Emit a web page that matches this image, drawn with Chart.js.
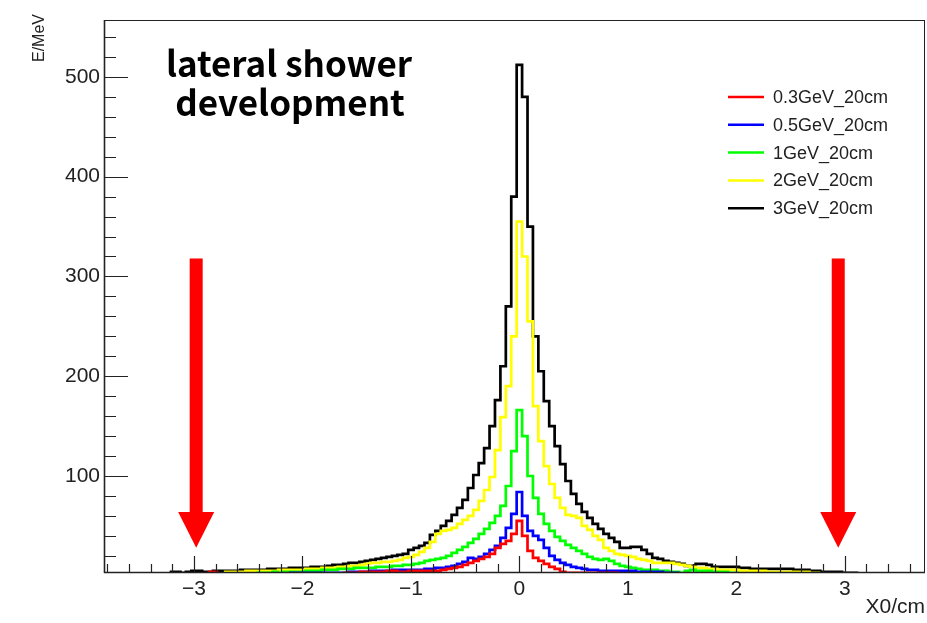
<!DOCTYPE html>
<html><head><meta charset="utf-8">
<script src="https://cdn.jsdelivr.net/npm/chart.js@4.4.1/dist/chart.umd.min.js"></script>
<style>html,body{margin:0;padding:0;background:#fff;overflow:hidden}#wrap{width:927px;height:623px}</style>
</head><body><div id="wrap"><canvas id="c" width="927" height="623"></canvas></div>
<script>
// histogram binning: bin centres from -3.25 to 3.15, width 0.05
const binStart = -3.275;
const binWidth = 0.05;

const seriesLabels = ['0.3GeV_20cm', '0.5GeV_20cm', '1GeV_20cm', '2GeV_20cm', '3GeV_20cm'];
const seriesColors = ['#ff0000', '#0000ff', '#00ff00', '#ffff00', '#000000'];

const e03 = [
  0,0,0,0,0,0,0,0, 4,4,
  0,0,0,0,0,0,0,0,0,0, 0,0,0,0,0,0,0,0,0,0, 0,0,0,
  3,3,3,4,4,4,4,4,5,5, 4,4,5,5,5,5,5,5, 6,7,8,9,11,13,15,17,19,22, 28,32,35,42,55,
  40,25,18,15,12,9,7,4,3,3, 3,3,3,3,3,3,3,3,
  0,0,0,0,0,0,0,0,0,0, 0,0,0,0,0,0,0,0,0,0, 0,0,0,0,0,0,0,0,0,0, 0,0,0,0,0,0,0,0,0,0, 0,0,0,0,0
];
const e05 = [
  0,0,0,0,0,0,0,0,0,0, 0,0,0,0,0,0,0,0,0,0, 0,0,0,
  3,3,3,3,3,3,3,3,3,3,3, 4,4,4,4, 5,5,5,5, 6,6,6,6,6,6,
  7,7,8,8,9,10,12,14,18,17,19,22,26,30,38,48,62,84,
  60,45,40,36,28,20,16,13,11,9, 8,7,6,6,5,5,5,5,5,5, 5,4,4,4,4,4,3,3,3,
  0,0,0,0,0,0,0,0,0,0, 0,0,0,0,0,0,0,0,0,0, 0,0,0,0,0,0,0,0,0,0, 0,0,0,0
];
const e1 = [
  0,0,0,0,0,0,0,0,0,0, 0,0,0,0,0,0,0,
  3,3,3,4,3,4,4,4,4, 5,5,5,6,6,6,7,7,7, 8,8,8,8,9,9,9,10,10,11,11,
  12,13,15,16,17,18,20,23,26,29,33,37,42,47,53,60,70,90,125,166,
  140,100,78,62,52,45,39,35,31,28, 25,22,19,17,16,17,15,12,10,9, 8,7,6,6,6,5,5,4,4,3, 5,6,5,5,5,4,4,4,3,3,
  0,0,0,0,0,0,0,0,0,0, 0,0,0,0,0,0,0,0,0,0, 0,0,0
];
const e2 = [
  0,0,0,0,0,0,0,0,0,0, 0,
  4,4,4,4,5,5,5,5,5,5, 6,6,6,6,6,7,7,7,8,8, 8,9,9,10,10,11,12,13,13,14,
  14,15,16,18,19,21,24,28,34,42, 45,46,48,52,56,60,66,75,86,99, 126,159,190,240,355,
  320,255,170,135,110,92,78,68,61,60, 58,50,46,40,36,28,25,22,21,20, 19,17,16,15,13,13,13,13,12,11,
  10,9,8,8,7,7,6,6,6,6, 5,5,5,5,5,4,4,4,4,4, 4,4,4,3,3,
  0,0,0,0,0,0,0,0
];
const e3 = [
  0,
  4,4,3,4,5,5,4,4,5,5, 5,5,5,6,6,6,6,6,7,7, 7,7,8,8,8,8,9,9,9,10, 11,11,12,13,13,14,15,16,17,18,
  19,20,21,22,26,28,30,33,41,45, 50,55,61,68,76,88,101,113,128,150, 176,210,270,380,512,
  480,350,240,205,175,150,130,112,95,82, 72,64,58,52,47,42,38,34,28,28, 29,29,26,22,18,17,15,14,13,12,
  10,10,12,12,11,9,9,9,9,9, 8,8,7,7,7,7,7,7,7,7, 6,6,6,5,5,4,4,4,4,3, 3,3,0
];
const seriesValues = [e03, e05, e1, e2, e3];

const xTicks = [-3, -2, -1, 0, 1, 2, 3];
const yTicks = [100, 200, 300, 400, 500];

const arrowAt = [-2.98, 2.94];
const arrowTop = 318, arrowHead = 64, arrowTip = 28;

function histPoints(vals) {
  const pts = [];
  for (let i = 0; i < vals.length; i++) {
    const v = vals[i];
    if (v <= 0) continue;
    const lo = binStart + i * binWidth, hi = lo + binWidth;
    pts.push({x: lo, y: v});
    const next = i < vals.length - 1 ? vals[i + 1] : 0;
    if (next <= 0) { pts.push({x: hi, y: v}); pts.push({x: hi, y: null}); }
  }
  return pts;
}

const SANS = "'Liberation Sans', Arial, Helvetica, sans-serif";

const overlay = {
  id: 'overlay',
  afterDatasetsDraw(chart) {
    const {ctx, chartArea: a, scales: {x, y}} = chart;
    ctx.save();
    // arrows
    ctx.fillStyle = '#ff0000';
    arrowAt.forEach(v => {
      const px = x.getPixelForValue(v);
      const yT = y.getPixelForValue(arrowTop), yH = y.getPixelForValue(arrowHead), yP = y.getPixelForValue(arrowTip);
      ctx.fillRect(px - 6.5, yT, 13, yH - yT + 1);
      ctx.beginPath(); ctx.moveTo(px - 18, yH); ctx.lineTo(px + 18, yH); ctx.lineTo(px, yP); ctx.closePath(); ctx.fill();
    });
    // frame
    ctx.strokeStyle = '#222'; ctx.lineWidth = 1;
    ctx.strokeRect(a.left + 0.5, a.top + 0.5, a.right - a.left - 1, a.bottom - a.top - 1);
    ctx.lineWidth = 1.6;
    ctx.beginPath(); ctx.moveTo(a.left, a.bottom - 0.5); ctx.lineTo(a.right, a.bottom - 0.5);
    ctx.moveTo(a.left + 0.5, a.top); ctx.lineTo(a.left + 0.5, a.bottom); ctx.stroke();
    // ticks
    ctx.lineWidth = 1.2; ctx.beginPath();
    for (let k = -19; k <= 18; k++) {
      const px = Math.round(x.getPixelForValue(k * 0.2)) + 0.5;
      const len = (k % 5 === 0) ? 17 : 9;
      ctx.moveTo(px, a.bottom); ctx.lineTo(px, a.bottom - len);
    }
    for (let k = 1; k <= 27; k++) {
      const py = Math.round(y.getPixelForValue(k * 20)) + 0.5;
      const len = (k % 5 === 0) ? 24 : 12;
      ctx.moveTo(a.left, py); ctx.lineTo(a.left + len, py);
    }
    ctx.stroke();
    // axis titles
    ctx.fillStyle = '#222';
    ctx.font = '21px ' + SANS; ctx.textAlign = 'right'; ctx.textBaseline = 'alphabetic';
    ctx.fillText('X0/cm', a.right, 613);
    ctx.save(); ctx.translate(40, 14); ctx.rotate(-Math.PI / 2);
    ctx.font = '16px ' + SANS; ctx.textAlign = 'right'; ctx.textBaseline = 'middle';
    ctx.fillText('E/MeV', 0, 0); ctx.restore();
    // legend
    ctx.font = '18px ' + SANS; ctx.textAlign = 'left'; ctx.textBaseline = 'middle';
    chart.data.datasets.forEach((ds, i) => {
      const ry = 97 + i * 27.8;
      ctx.strokeStyle = ds.borderColor; ctx.lineWidth = 2.5;
      ctx.beginPath(); ctx.moveTo(728, ry); ctx.lineTo(764, ry); ctx.stroke();
      ctx.fillStyle = '#222'; ctx.fillText(ds.label, 773, ry + 1);
    });
    // annotation
    ctx.fillStyle = '#000'; ctx.textAlign = 'center'; ctx.textBaseline = 'alphabetic';
    ctx.font = "bold 35px 'Noto Sans CJK SC', 'Noto Sans', sans-serif";
    ctx.fillText('lateral shower', 289, 77);
    ctx.fillText('development', 290, 116);
    ctx.restore();
  }
};

new Chart(document.getElementById('c'), {
  type: 'line',
  data: {
    datasets: seriesLabels.map((l, i) => ({
      label: l, data: histPoints(seriesValues[i]), borderColor: seriesColors[i],
      borderWidth: 2.7, pointRadius: 0, stepped: 'before', fill: false, spanGaps: false, order: i
    }))
  },
  options: {
    responsive: false, animation: false, devicePixelRatio: 1,
    layout: {padding: {left: 0, right: 2, top: 20, bottom: 0}},
    plugins: {legend: {display: false}, tooltip: {enabled: false}},
    scales: {
      x: {
        type: 'linear', min: -3.83, max: 3.74,
        afterBuildTicks: s => { s.ticks = xTicks.map(v => ({value: v})); },
        afterFit: s => { s.height = 50; },
        grid: {display: false, drawTicks: false}, border: {display: false},
        ticks: {padding: 4, color: '#222', font: {family: SANS, size: 21}, maxRotation: 0, autoSkip: false,
          callback: v => v < 0 ? '\u2212' + Math.abs(v) : String(v)}
      },
      y: {
        type: 'linear', min: 2.8, max: 557,
        afterBuildTicks: s => { s.ticks = yTicks.map(v => ({value: v})); },
        afterFit: s => { s.width = 104; },
        grid: {display: false, drawTicks: false}, border: {display: false},
        ticks: {padding: 4, color: '#222', font: {family: SANS, size: 21}, autoSkip: false}
      }
    }
  },
  plugins: [overlay]
});
</script></body></html>
